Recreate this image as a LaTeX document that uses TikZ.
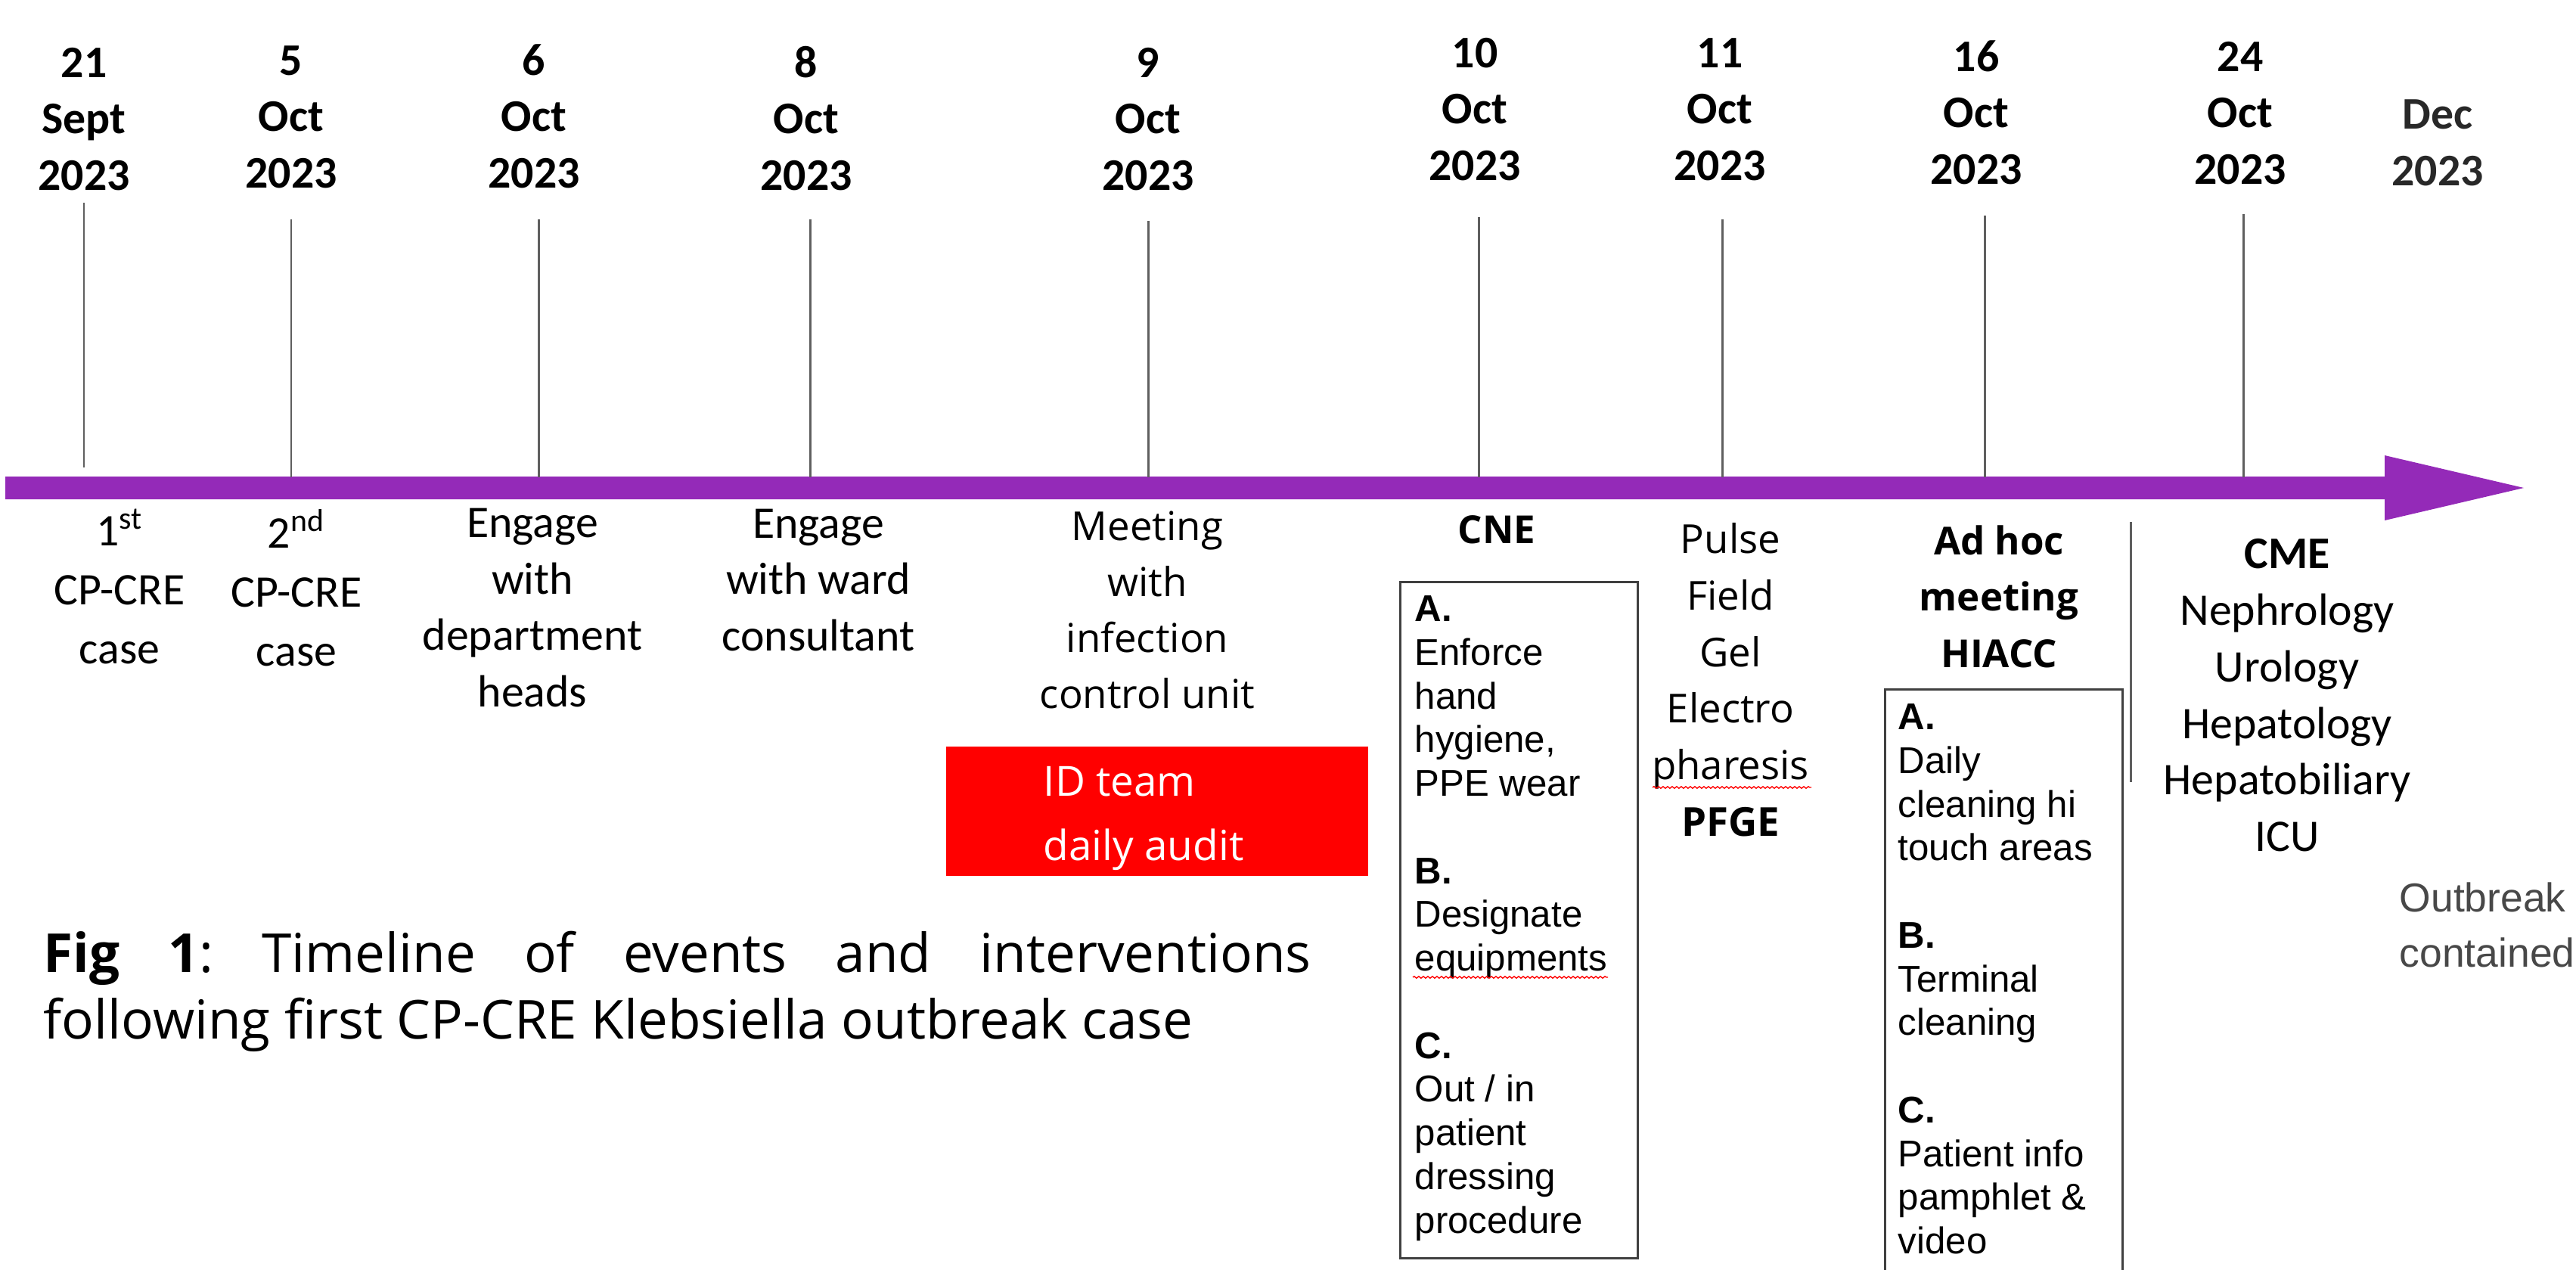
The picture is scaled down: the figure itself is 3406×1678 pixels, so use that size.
\documentclass[tikz,border=0pt]{standalone}
\usepackage{fontspec}
\setmainfont{Carlito}
\newfontfamily\osans{Open Sans}
\newfontfamily\arialf{Liberation Sans}
\usetikzlibrary{decorations.pathmorphing}
\definecolor{barpurple}{RGB}{148,42,184}
\definecolor{tickgray}{RGB}{95,95,95}
\definecolor{boxgray}{RGB}{64,64,64}
\definecolor{outgray}{RGB}{72,72,72}
\definecolor{decgray}{RGB}{40,40,40}
\definecolor{idred}{RGB}{255,0,0}
\tikzset{
  datelbl/.style={font=\fontsize{17}{21.3}\selectfont\bfseries, align=center, anchor=south, inner sep=0pt},
  evlbl/.style={font=\fontsize{17}{21.3}\selectfont, align=center, anchor=south, inner sep=0pt},
  oslbl/.style={font=\osans\fontsize{15}{21.1}\selectfont, align=center, anchor=south, inner sep=0pt},
  osbold/.style={font=\osans\fontsize{14.5}{21.3}\selectfont\bfseries, align=center, anchor=south, inner sep=0pt},
  boxtxt/.style={font=\arialf\fontsize{14}{16.42}\selectfont, align=left, anchor=north west, inner sep=0pt},
  tickline/.style={draw=tickgray, line width=0.85pt},
  framebox/.style={draw=boxgray, line width=0.85pt},
  spell/.style={draw=red, line width=0.4pt, decorate, decoration={snake, amplitude=0.012cm, segment length=0.06cm}},
  captxt/.style={font=\osans\fontsize{20.2}{25}\selectfont\frenchspacing, anchor=base west, inner sep=0pt},
  idtxt/.style={font=\osans\fontsize{15.6}{24}\selectfont, text=white, anchor=base west, inner sep=0pt},
}
\begin{document}
\begin{tikzpicture}[x=0.01cm, y=-0.01cm]
\useasboundingbox (0,0) rectangle (3406,1678);

% timeline bar with arrow head
\fill[barpurple] (7,630) -- (3153,630) -- (3153,602) -- (3337,645) -- (3153,688) -- (3153,660) -- (7,660) -- cycle;

% dates
\node[datelbl] (d1) at (111,253) {21\\Sept\\2023};
\node[datelbl] (d2) at (385,250) {5\\Oct\\2023};
\node[datelbl] (d3) at (706,250) {6\\Oct\\2023};
\node[datelbl] (d4) at (1066,253) {8\\Oct\\2023};
\node[datelbl] (d5) at (1518,253) {9\\Oct\\2023};
\node[datelbl] (d6) at (1950,240) {10\\Oct\\2023};
\node[datelbl] (d7) at (2274,240) {11\\Oct\\2023};
\node[datelbl] (d8) at (2613,245) {16\\Oct\\2023};
\node[datelbl] (d9) at (2962,245) {24\\Oct\\2023};
\node[datelbl, text=decgray] (d10) at (3223,247) {Dec\\2023};

% ticks
\coordinate (t1a) at (111,268);  \coordinate (t1b) at (111,618);
\coordinate (t2a) at (385,290);  \coordinate (t2b) at (385,631);
\coordinate (t3a) at (712,290);  \coordinate (t3b) at (712,631);
\coordinate (t4a) at (1071,290); \coordinate (t4b) at (1071,631);
\coordinate (t5a) at (1518,292); \coordinate (t5b) at (1518,631);
\coordinate (t6a) at (1955,287); \coordinate (t6b) at (1955,631);
\coordinate (t7a) at (2277,290); \coordinate (t7b) at (2277,631);
\coordinate (t8a) at (2624,285); \coordinate (t8b) at (2624,631);
\coordinate (t9a) at (2966,283); \coordinate (t9b) at (2966,631);
\foreach \i in {1,...,9} {\draw[tickline] (t\i a) -- (t\i b);}

% event labels
\node[evlbl, font=\fontsize{17}{22.2}\selectfont] (e1) at (158,879) {1\textsuperscript{st}\\CP-CRE\\case};
\node[evlbl, font=\fontsize{17}{22.2}\selectfont] (e2) at (392,882) {2\textsuperscript{nd}\\CP-CRE\\case};
\node[evlbl] (e3) at (704,936) {Engage\\with\\department\\heads};
\node[evlbl] (e4) at (1082,862) {Engage\\with ward\\consultant};
\node[oslbl] (e5) at (1517,938) {Meeting\\with\\infection\\control unit};
\node[osbold] (e6) at (1979,720) {CNE};
\node[oslbl, font=\osans\fontsize{15}{21.3}\selectfont] (e7) at (2288,1107) {Pulse\\Field\\Gel\\Electro\\pharesis\\\textbf{PFGE}};
\node[osbold] (e8) at (2643,884) {Ad hoc\\meeting\\HIACC};
\node[evlbl] (e9) at (3024,1127) {\textbf{CME}\\Nephrology\\Urology\\Hepatology\\Hepatobiliary\\ICU};
\node[font=\arialf\fontsize{15.2}{20.8}\selectfont, text=outgray, align=left, anchor=south west, inner sep=0pt] (e10) at (3172,1280) {Outbreak\\contained};

% ID team box
\node[fill=idred, minimum width=5.58cm, minimum height=1.71cm, anchor=north west, inner sep=0pt] (idbox) at (1250,986) {};
\node[idtxt] (id1) at (1379,1052) {ID team};
\node[idtxt] (id2) at (1379,1137) {daily audit};

% CNE box
\node[framebox, minimum width=3.14cm, minimum height=8.93cm, anchor=north west, inner sep=0pt] (cnebox) at (1850,768) {};
\node[boxtxt] (cnetxt) at (1870,787) {\textbf{A.}\\Enforce\\hand\\hygiene,\\PPE wear\\[16.42pt]\textbf{B.}\\Designate\\equipments\\[16.42pt]\textbf{C.}\\Out / in\\patient\\dressing\\procedure};

% HIACC box (open at the bottom edge of the picture)
\coordinate (hb1) at (2492,1690); \coordinate (hb2) at (2492,911);
\coordinate (hb3) at (2806,911);  \coordinate (hb4) at (2806,1690);
\draw[framebox] (hb1) -- (hb2) -- (hb3) -- (hb4);
\node[boxtxt] (hiacctxt) at (2509,930) {\textbf{A.}\\Daily\\cleaning hi\\touch areas\\[16.42pt]\textbf{B.}\\Terminal\\cleaning\\[16.42pt]\textbf{C.}\\Patient info\\pamphlet \&\\video};

% separator
\coordinate (s1) at (2817,690); \coordinate (s2) at (2817,1034);
\draw[tickline] (s1) -- (s2);

% spell-check underlines
\draw[spell] (1868,1292) -- (2126,1292);
\draw[spell] (2185,1041) -- (2395,1041);

% caption
\node[captxt] (cap1) at (57,1285) {\makebox[476.6pt][s]{\textbf{Fig}\space\textbf{1}: Timeline of events and interventions}};
\node[captxt] (cap2) at (57,1373) {following first CP-CRE Klebsiella outbreak case};
\end{tikzpicture}
\end{document}
